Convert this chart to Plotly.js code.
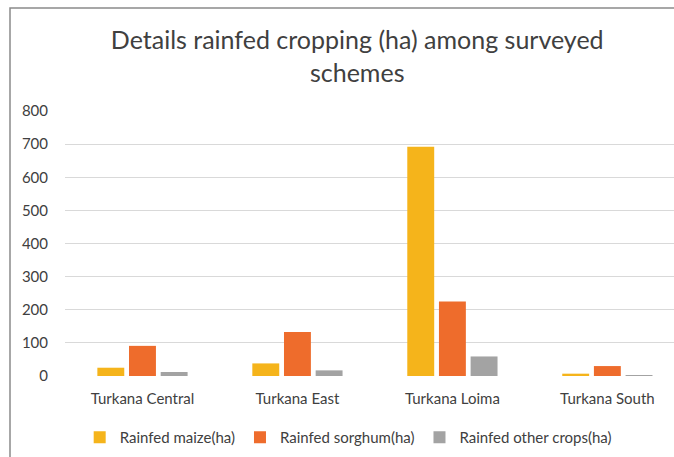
<!DOCTYPE html>
<html>
<head>
<meta charset="utf-8">
<script src="https://cdn.plot.ly/plotly-3.0.1.min.js"></script>
<style>html,body{margin:0;padding:0;background:#fff;} #chart{width:674px;height:457px;}</style>
</head>
<body>
<div id="chart"></div>
<script>
const categories = ["Turkana Central", "Turkana East", "Turkana Loima", "Turkana South"];
const maize = [25, 38, 692, 7];
const sorghum = [91, 133, 225, 30];
const otherCrops = [12, 17, 59, 3];
const seriesNames = ["Rainfed maize(ha)", "Rainfed sorghum(ha)", "Rainfed other crops(ha)"];
const colors = ["#F5B41B", "#EE6C2C", "#A3A3A3"];
const yTicks = [0, 100, 200, 300, 400, 500, 600, 700, 800];

const font = "Lato, 'Open Sans', sans-serif";
const traces = [maize, sorghum, otherCrops].map((v, i) => ({
  type: "bar", x: categories, y: v, name: seriesNames[i],
  marker: {color: colors[i]}, hoverinfo: "none"
}));

const layout = {
  width: 674, height: 457,
  margin: {l: 65, r: 0, t: 111, b: 81},
  paper_bgcolor: "#fff", plot_bgcolor: "#fff",
  barmode: "group", bargap: 0.387, bargroupgap: 0.15,
  title: {
    text: "Details rainfed cropping (ha) among surveyed<br>schemes",
    x: 0.53, xanchor: "center", y: 0.892, yanchor: "top",
    font: {family: font, size: 25, color: "#404040"}
  },
  xaxis: {
    range: [-0.5, 3.43], showgrid: false, zeroline: false, showline: false,
    ticks: "", ticklabelstandoff: 12,
    tickfont: {family: font, size: 15, color: "#404040"}
  },
  yaxis: {
    range: [0, 800], tickvals: yTicks, showgrid: true, gridcolor: "#D9D9D9", gridwidth: 1,
    zeroline: false, showline: false, ticks: "", ticklabelstandoff: 16,
    tickfont: {family: font, size: 15, color: "#404040"}
  },
  showlegend: true,
  legend: {
    orientation: "h", x: 0.465, xanchor: "center", y: -0.17, yanchor: "top",
    font: {family: font, size: 15, color: "#404040"}, itemwidth: 30, tracegroupgap: 0
  },
  shapes: [{
    type: "rect", xref: "paper", yref: "paper",
    x0: -55/609, x1: 1.2, y0: -0.5, y1: (376 - 8) / 265,
    line: {color: "#8A8A8A", width: 1.5}, fillcolor: "rgba(0,0,0,0)", layer: "below"
  }]
};

Plotly.newPlot("chart", traces, layout, {displayModeBar: false, staticPlot: true});
</script>
</body>
</html>
